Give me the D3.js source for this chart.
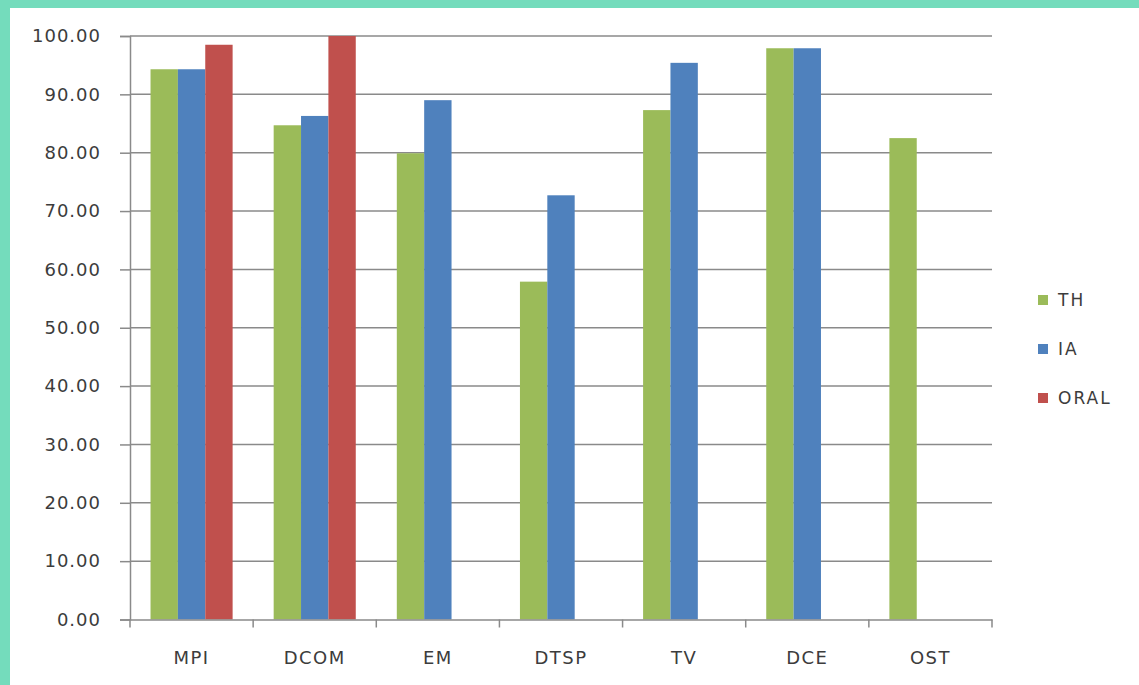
<!DOCTYPE html>
<html>
<head>
<meta charset="utf-8">
<script src="https://cdn.jsdelivr.net/npm/d3@7"></script>
<style>
  html, body { margin: 0; padding: 0; background: #fff; }
  svg { display: block; }
</style>
</head>
<body>
<svg id="chart" width="1139" height="685"></svg>
<script>
const categories = ["MPI", "DCOM", "EM", "DTSP", "TV", "DCE", "OST"];
const seriesNames = ["TH", "IA", "ORAL"];
const thValues   = [94.3, 84.7, 79.9, 57.9, 87.3, 97.9, 82.5];
const iaValues   = [94.3, 86.3, 89.0, 72.7, 95.4, 97.9, null];
const oralValues = [98.5, 100.0, null, null, null, null, null];
const yTicks = [0, 10, 20, 30, 40, 50, 60, 70, 80, 90, 100];
const colors = ["#9bbb59", "#4f81bd", "#c0504d"];

const series = [thValues, iaValues, oralValues];

(function () {
const svg = d3.select("#chart");
const W = 1139, H = 685;
const FONT = "'DejaVu Sans', sans-serif";
const TXT = "#3c3c3c";

// background and teal frame
svg.append("rect").attr("x", 0).attr("y", 0).attr("width", W).attr("height", H).attr("fill", "#74dcbc");
svg.append("rect").attr("x", 10).attr("y", 8).attr("width", W - 10).attr("height", H - 8).attr("fill", "#ffffff");

const pLeft = 130, pRight = 992, pTop = 36, pBottom = 619.5;

const x = d3.scaleBand().domain(categories).range([pLeft, pRight]).paddingInner(0).paddingOuter(0);
const bw = x.bandwidth() / 4.5;
const gap = (x.bandwidth() - 3 * bw) / 2;
const y = d3.scaleLinear().domain([0, 100]).range([pBottom, pTop]);

// gridlines
svg.append("g").selectAll("line").data(yTicks.filter(d => d > 0)).join("line")
  .attr("x1", pLeft).attr("x2", pRight)
  .attr("y1", d => y(d)).attr("y2", d => y(d))
  .attr("stroke", "#8a8a8a").attr("stroke-width", 1.5);

// bars
series.forEach((vals, si) => {
  svg.append("g").selectAll("rect").data(categories.map((c, i) => ({c, v: vals[i]})).filter(d => d.v != null))
    .join("rect")
    .attr("x", d => x(d.c) + gap + si * bw)
    .attr("width", bw)
    .attr("y", d => y(d.v))
    .attr("height", d => y(0) - y(d.v))
    .attr("fill", colors[si]);
});

// y axis
const yAxis = d3.axisLeft(y).tickValues(yTicks).tickFormat(d3.format(".2f")).tickSize(10).tickPadding(19);
const ya = svg.append("g").attr("transform", `translate(${pLeft},0)`).call(yAxis);
ya.select(".domain").attr("stroke", "#8a8a8a").attr("stroke-width", 1.5);
ya.selectAll(".tick line").attr("stroke", "#8a8a8a").attr("stroke-width", 1.5);
ya.selectAll("text").attr("font-family", FONT).attr("font-size", 18)
  .attr("fill", TXT).attr("letter-spacing", 1);

// x axis
const xa = svg.append("g").attr("transform", `translate(0,${pBottom})`)
  .call(d3.axisBottom(x).tickSize(0).tickPadding(32));
xa.select(".domain").attr("stroke", "#8a8a8a").attr("stroke-width", 1.5);
xa.selectAll("text").attr("font-family", FONT).attr("font-size", 18)
  .attr("fill", TXT).attr("letter-spacing", 1.5);
// boundary tick marks
const bounds = categories.map(c => x(c)).concat([pRight]);
svg.append("g").selectAll("line").data(bounds).join("line")
  .attr("x1", d => d).attr("x2", d => d)
  .attr("y1", pBottom).attr("y2", pBottom + 8)
  .attr("stroke", "#8a8a8a").attr("stroke-width", 1.5);

// legend
const legY = [300, 349, 398];
const lg = svg.append("g");
seriesNames.forEach((n, i) => {
  lg.append("rect").attr("x", 1038).attr("y", legY[i] - 5).attr("width", 10).attr("height", 10).attr("fill", colors[i]);
  lg.append("text").attr("x", 1058).attr("y", legY[i]).attr("dy", "0.36em")
    .attr("font-family", FONT).attr("font-size", 17).attr("fill", TXT).attr("letter-spacing", 2)
    .text(n);
});
})();
</script>
</body>
</html>
